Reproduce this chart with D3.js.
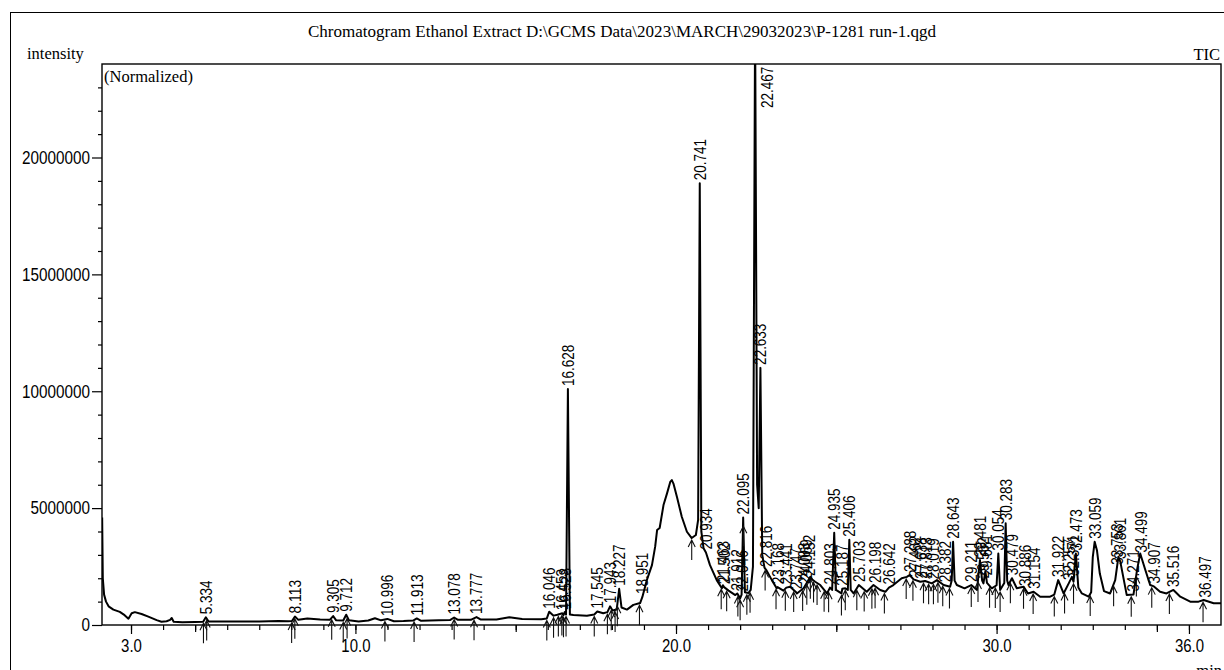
<!DOCTYPE html>
<html><head><meta charset="utf-8">
<script src="https://cdn.jsdelivr.net/npm/d3@7"></script>
<style>
html,body{margin:0;padding:0;background:#fff;}
svg{display:block;}
</style></head>
<body>
<svg id="chart" width="1224" height="670"></svg>
<script>
// ---------------- DATA ----------------
const titleText = "Chromatogram Ethanol Extract D:\\GCMS Data\\2023\\MARCH\\29032023\\P-1281 run-1.qgd";
// retention time (min) of trace points
const traceTimes = [2.10,2.12,2.16,2.22,2.30,2.45,2.65,2.80,2.92,3.02,3.12,3.33,3.54,3.80,3.95,4.11,4.22,4.27,4.33,4.60,5.00,5.25,5.334,5.42,6.00,7.00,7.60,7.90,8.02,8.113,8.22,8.50,8.90,9.20,9.305,9.40,9.62,9.712,9.80,10.10,10.40,10.61,10.80,10.996,11.20,11.50,11.80,11.913,12.05,12.60,12.95,13.078,13.20,13.60,13.777,13.90,14.40,14.80,15.20,15.80,15.97,16.046,16.18,16.30,16.453,16.49,16.528,16.57,16.628,16.69,16.80,17.22,17.45,17.545,17.73,17.86,17.943,18.02,18.15,18.227,18.30,18.47,18.67,18.88,18.951,19.09,19.25,19.35,19.41,19.49,19.61,19.72,19.82,19.87,19.92,20.03,20.18,20.34,20.49,20.62,20.69,20.741,20.79,20.86,20.934,21.06,21.27,21.43,21.463,21.50,21.64,21.85,21.912,22.00,22.046,22.095,22.15,22.26,22.33,22.40,22.467,22.53,22.58,22.633,22.69,22.76,22.816,22.99,23.14,23.168,23.35,23.441,23.56,23.747,23.77,23.98,24.10,24.19,24.25,24.34,24.50,24.71,24.803,24.87,24.935,24.99,25.16,25.187,25.28,25.36,25.406,25.45,25.54,25.703,25.95,26.16,26.37,26.53,26.642,26.78,27.04,27.20,27.288,27.41,27.62,27.77,27.98,28.14,28.35,28.55,28.60,28.643,28.69,28.76,29.00,29.21,29.39,29.481,29.55,29.59,29.65,29.70,29.85,30.00,30.054,30.11,30.24,30.283,30.33,30.37,30.479,30.63,30.84,30.98,31.154,31.36,31.67,31.80,31.922,32.09,32.25,32.35,32.40,32.473,32.55,32.66,32.87,32.95,33.00,33.059,33.13,33.22,33.35,33.54,33.70,33.80,33.861,33.91,34.06,34.27,34.38,34.48,34.64,34.79,34.907,35.10,35.30,35.516,35.73,36.04,36.30,36.46,36.77,37.00];
// intensity (millions) of trace points
const traceValues = [4.6,2.0,1.3,1.0,0.80,0.66,0.56,0.42,0.27,0.50,0.55,0.47,0.36,0.21,0.14,0.16,0.22,0.30,0.14,0.12,0.13,0.14,0.33,0.15,0.15,0.15,0.17,0.16,0.17,0.36,0.22,0.28,0.24,0.22,0.38,0.20,0.19,0.44,0.20,0.15,0.19,0.29,0.20,0.26,0.16,0.17,0.19,0.28,0.18,0.20,0.21,0.32,0.22,0.22,0.34,0.24,0.24,0.33,0.26,0.25,0.28,0.57,0.40,0.44,0.50,0.42,0.55,0.45,10.1,0.45,0.43,0.40,0.45,0.58,0.50,0.55,0.80,0.62,0.66,1.55,0.75,0.66,0.86,0.94,1.2,1.92,2.56,3.35,4.06,4.15,5.13,5.63,6.12,6.2,6.05,5.48,4.63,3.99,3.72,3.85,4.5,18.9,4.0,3.28,3.1,2.56,1.92,1.57,1.70,1.62,1.47,1.28,1.35,1.14,1.30,4.6,1.40,1.37,1.50,2.5,26.0,6.0,5.0,11.0,3.0,2.45,2.35,1.92,1.57,1.62,1.47,1.6,1.64,1.40,1.35,1.57,1.85,2.06,1.95,1.85,1.71,1.35,1.6,1.5,3.95,1.5,1.35,1.55,1.57,1.5,3.65,1.5,1.35,1.71,1.42,1.71,1.50,1.42,1.6,1.71,2.0,2.06,2.14,1.95,1.85,1.88,1.78,1.92,1.71,1.64,1.9,3.56,1.9,1.71,1.57,1.71,1.50,2.78,1.9,1.78,2.3,1.8,1.57,1.7,3.06,1.5,1.8,4.35,1.9,1.71,2.0,1.57,1.64,1.35,1.42,1.21,1.21,1.3,1.92,1.35,1.78,2.06,1.85,3.06,1.6,1.35,1.21,1.4,2.9,3.56,3.2,2.2,1.45,1.35,1.92,2.92,2.7,2.35,1.28,1.3,2.35,3.06,2.35,1.71,1.65,1.42,1.35,1.5,1.21,1.00,1.0,1.07,0.93,0.93];
// labelled peak retention times
const peakTimes = [5.334,8.113,9.305,9.712,10.996,11.913,13.078,13.777,16.046,16.453,16.528,16.628,17.545,17.943,18.227,18.951,20.741,20.934,21.463,21.502,21.912,22.046,22.095,22.467,22.633,22.816,23.168,23.441,23.747,24.003,24.069,24.152,24.803,24.935,25.187,25.406,25.703,26.198,26.642,27.288,27.462,27.638,27.813,28.019,28.382,28.643,29.211,29.481,29.562,29.681,30.054,30.283,30.479,30.886,31.154,31.922,32.257,32.371,32.473,33.059,33.753,33.861,34.271,34.499,34.907,35.516,36.497];
// integration markers (arrows)
const markerTimes = [5.26,5.36,8.01,8.11,9.26,9.62,9.74,10.92,11.83,13.08,13.70,15.97,16.18,16.33,16.44,16.49,16.57,17.45,17.86,17.98,18.10,18.17,18.86,20.49,21.41,21.58,21.93,22.00,22.10,22.21,22.31,22.78,23.12,23.41,23.67,23.95,24.08,24.19,24.29,24.40,24.62,24.76,24.97,25.16,25.28,25.64,25.87,26.11,26.21,26.50,27.18,27.39,27.72,27.88,28.03,28.17,28.32,28.53,29.21,29.42,29.78,29.96,30.11,30.43,30.84,31.14,31.80,32.12,32.40,32.92,33.65,34.20,34.36,34.84,35.39,36.44];
const xMajorTicks = [3,10,20,30,36];
const xMediumTicks = [5,15,25,35];
const yMajorTicks = [0,5,10,15,20];   // millions
const yMinorTicks = [1,2,3,4,6,7,8,9,11,12,13,14,16,17,18,19,21,22,23];

// ---------------- LAYOUT ----------------
const L=102, R=1221, T=64, B=625;
const svg = d3.select("#chart");
const x = d3.scaleLinear().domain([2.095,37.0]).range([L,R]);
const y = d3.scaleLinear().domain([0,24.0]).range([B,T]);
const narrow = "'Liberation Sans Narrow','Arial Narrow','Liberation Sans',sans-serif";
const serif = "'Liberation Serif','Times New Roman',serif";
function tw(s, d, p){ let w=0; for(const c of s){ w += (c==='.')?p:d; } return w; }

// outer frame
svg.append("rect").attr("x",10.5).attr("y",12.5).attr("width",1300).attr("height",700)
  .attr("fill","none").attr("stroke","#000").attr("stroke-width",1);

// texts
svg.append("text").attr("x",308).attr("y",37).attr("font-family",serif).attr("font-size",17)
  .attr("textLength",628).attr("lengthAdjust","spacingAndGlyphs").text(titleText);
svg.append("text").attr("x",27).attr("y",59).attr("font-family",serif).attr("font-size",16.5).text("intensity");
svg.append("text").attr("x",1220).attr("y",60).attr("text-anchor","end").attr("font-family",serif).attr("font-size",16.5).text("TIC");
svg.append("text").attr("x",104).attr("y",82).attr("font-family",serif).attr("font-size",16.5).text("(Normalized)");
svg.append("text").attr("x",1222).attr("y",676).attr("text-anchor","end").attr("font-family",serif).attr("font-size",16.5).text("min");

// axes
const gx = svg.append("g").attr("transform",`translate(0,${B})`);
gx.append("g").call(d3.axisBottom(x).tickValues(d3.range(3,37)).tickSize(5).tickFormat(""));
gx.append("g").call(d3.axisBottom(x).tickValues(xMediumTicks).tickSize(7).tickFormat(""));
gx.append("g").call(d3.axisBottom(x).tickValues(xMajorTicks).tickSize(9).tickPadding(5).tickFormat(d3.format(".1f")));
gx.selectAll(".domain").remove();
gx.selectAll("text").attr("font-family",narrow).attr("font-size",18).attr("fill","#000")
  .each(function(){ const s=this.textContent; d3.select(this).attr("textLength",tw(s,8.3,4.2)).attr("lengthAdjust","spacingAndGlyphs"); });

const gy = svg.append("g").attr("transform",`translate(${L},0)`);
gy.append("g").call(d3.axisLeft(y).tickValues(yMinorTicks).tickSize(4).tickFormat(""));
gy.append("g").call(d3.axisLeft(y).tickValues(yMajorTicks).tickSize(10).tickPadding(2).tickFormat(d=>String(d*1000000)));
gy.selectAll(".domain").remove();
gy.selectAll("text").attr("font-family",narrow).attr("font-size",18).attr("fill","#000")
  .each(function(){ const s=this.textContent; d3.select(this).attr("textLength",tw(s,8.5,4.2)).attr("lengthAdjust","spacingAndGlyphs"); });
svg.selectAll(".tick line").attr("stroke","#000").attr("stroke-width",1.2);

// plot frame
svg.append("rect").attr("x",L).attr("y",T).attr("width",R-L).attr("height",B-T)
  .attr("fill","none").attr("stroke","#000").attr("stroke-width",1.4);

// clip
svg.append("clipPath").attr("id","clip").append("rect").attr("x",L).attr("y",T).attr("width",R-L).attr("height",B-T);

const trace = traceTimes.map((t,i)=>[t,traceValues[i]]);
svg.append("path").datum(trace).attr("clip-path","url(#clip)")
  .attr("fill","none").attr("stroke","#000").attr("stroke-width",2).attr("stroke-linejoin","round")
  .attr("d", d3.line().x(d=>x(d[0])).y(d=>y(d[1])));

// placement helper (reads the drawn trace)
const bis = d3.bisector(d=>d).left;
function valAt(t){
  let i = bis(traceTimes,t);
  if(i<=0) return traceValues[0];
  if(i>=traceTimes.length) return traceValues[traceValues.length-1];
  const t0=traceTimes[i-1], t1=traceTimes[i];
  const f=(t-t0)/(t1-t0);
  return traceValues[i-1]+(traceValues[i]-traceValues[i-1])*f;
}

// arrows
const ag = svg.append("g").attr("stroke","#111").attr("stroke-width",1.1).attr("fill","none");
markerTimes.forEach(t=>{
  const px = x(t), tip = Math.min(y(valAt(t)), B-2) + 2, tail = tip + 20;
  ag.append("path").attr("d",`M${px},${tail}L${px},${tip}M${px-3.5},${tip+7}L${px},${tip}L${px+3.5},${tip+7}`);
});

// peak labels
const lg = svg.append("g");
peakTimes.forEach(t=>{
  const v = valAt(t);
  let px = x(t), py;
  if(v > y.domain()[1]){ px += 12; py = 108; }
  else py = y(v) - 3;
  const s = t.toFixed(3);
  lg.append("text").attr("transform",`translate(${px},${py}) rotate(-90)`)
    .attr("dy","0.36em").attr("font-family",narrow).attr("font-size",16.5).attr("fill","#000")
    .attr("textLength",tw(s,7.5,3.75)).attr("lengthAdjust","spacingAndGlyphs").text(s);
});
</script>
</body></html>
